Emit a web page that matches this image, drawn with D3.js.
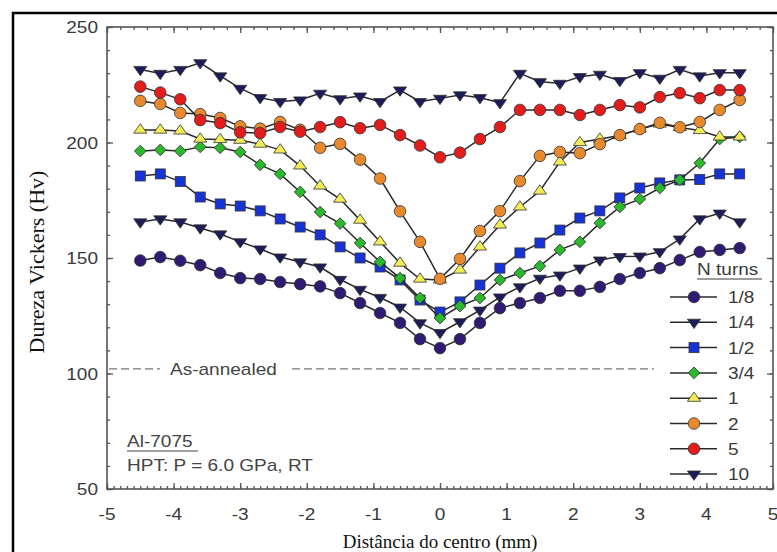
<!DOCTYPE html>
<html>
<head>
<meta charset="utf-8">
<script src="https://cdn.jsdelivr.net/npm/d3@7"></script>
<style>
  body { margin: 0; background: #fff; }
  svg { display: block; }
</style>
</head>
<body>
<svg id="chart" width="777" height="552"></svg>
<script>
// distance from centre (mm)
var xs = [-4.5, -4.2, -3.9, -3.6, -3.3, -3.0, -2.7, -2.4, -2.1, -1.8, -1.5, -1.2, -0.9, -0.6, -0.3, 0,
          0.3, 0.6, 0.9, 1.2, 1.5, 1.8, 2.1, 2.4, 2.7, 3.0, 3.3, 3.6, 3.9, 4.2, 4.5];

var turns = ["1/8", "1/4", "1/2", "3/4", "1", "2", "5", "10"];

var hv_1_8 = [148.9, 150.4, 148.8, 146.9, 143.5, 141.3, 140.9, 139.6, 138.7, 137.7, 134.8, 130.5, 126.2, 121.9, 114.9, 111.0,
              114.9, 121.9, 128.3, 130.5, 132.7, 135.8, 135.8, 137.5, 140.9, 143.5, 145.6, 149.1, 152.6, 153.5, 154.3];
var hv_1_4 = [165.6, 166.9, 165.6, 163.0, 160.4, 157.0, 153.9, 150.4, 148.3, 146.1, 140.7, 136.4, 132.9, 128.7, 121.9, 117.7,
              122.4, 127.4, 133.1, 137.5, 141.2, 142.6, 145.6, 149.1, 150.6, 150.8, 152.7, 158.2, 166.9, 169.4, 165.6];
var hv_1_2 = [185.5, 186.4, 183.1, 176.4, 173.4, 172.5, 170.4, 166.9, 163.4, 160.0, 154.8, 150.0, 146.1, 140.5, 131.8, 126.6,
              131.0, 138.3, 145.6, 152.2, 156.5, 162.1, 167.3, 170.4, 176.0, 180.3, 182.5, 183.8, 184.0, 186.4, 186.4];
var hv_3_4 = [196.3, 196.8, 196.3, 198.1, 197.7, 195.9, 190.3, 186.4, 178.6, 169.9, 164.9, 156.5, 148.3, 141.3, 132.7, 124.0,
              129.2, 132.7, 140.5, 143.5, 146.5, 153.5, 157.0, 165.1, 172.1, 175.5, 180.3, 183.8, 191.1, 201.5, 202.4];
var hv_1   = [205.4, 205.4, 205.0, 201.5, 201.3, 201.0, 199.3, 196.8, 189.9, 181.2, 175.5, 166.4, 157.0, 147.8, 140.9, 140.5,
              144.8, 154.8, 164.3, 172.1, 179.0, 191.6, 200.0, 201.5, 203.0, 205.8, 208.0, 206.5, 205.2, 202.4, 202.4];
var hv_2   = [218.0, 216.7, 212.8, 212.3, 210.6, 207.0, 206.0, 208.9, 205.5, 197.7, 199.4, 192.6, 184.4, 170.2, 157.0, 141.0,
              149.6, 161.7, 170.3, 183.3, 194.2, 195.9, 195.4, 199.3, 203.2, 205.8, 208.5, 206.6, 208.9, 214.1, 218.4];
var hv_5   = [224.2, 221.6, 218.7, 209.7, 208.4, 204.4, 204.1, 206.7, 204.7, 206.7, 208.8, 206.2, 207.6, 203.2, 198.7, 193.6,
              195.6, 201.5, 206.7, 214.1, 214.1, 214.1, 211.9, 214.1, 216.2, 215.2, 219.7, 221.4, 219.2, 222.7, 222.7];
var hv_10  = [231.6, 229.9, 231.6, 234.5, 228.8, 223.4, 219.4, 217.7, 218.4, 221.3, 218.9, 220.1, 217.7, 222.7, 217.7, 219.1,
              220.6, 219.4, 217.2, 229.9, 226.3, 225.6, 228.5, 229.5, 226.8, 230.2, 227.8, 231.6, 228.8, 230.2, 230.2];

var annealed = 102;
var xTicks = [-5, -4, -3, -2, -1, 0, 1, 2, 3, 4, 5];
var yTicks = [50, 100, 150, 200, 250];

var allSeries = [hv_1_8, hv_1_4, hv_1_2, hv_3_4, hv_1, hv_2, hv_5, hv_10];
var fills   = ["#2f1c72", "#1c1c58", "#1733d6", "#2cb82c", "#f2ec58", "#e8892e", "#e31c1c", "#1c1c58"];
var shapes  = ["circle", "tridown", "square", "diamond", "triup", "circle", "circle", "tridown"];

var svg = d3.select("#chart");

var x = d3.scaleLinear().domain([-5, 5]).range([107, 773]);
var y = d3.scaleLinear().domain([50, 250]).range([489, 27]);

var sans = "'Liberation Sans', Arial, sans-serif";
var serif = "'Liberation Serif', 'Times New Roman', serif";

// outer black frame
svg.append("rect")
   .attr("x", 13).attr("y", 13)
   .attr("width", 800).attr("height", 600)
   .attr("fill", "none").attr("stroke", "#000").attr("stroke-width", 2.5);

// plot frame + ticks (inward, mirrored)
var tickCol = "#555";
svg.append("g").attr("transform", "translate(0,489)")
   .call(d3.axisTop(x).tickValues(d3.range(-50, 51).map(function(d) { return d / 10; })).tickSize(3).tickFormat(""))
   .call(function(g) { g.select(".domain").remove(); });
svg.append("g").attr("transform", "translate(0,489)")
   .call(d3.axisTop(x).tickValues(xTicks).tickSize(6).tickFormat(""))
   .call(function(g) { g.select(".domain").remove(); });
svg.append("g").attr("transform", "translate(0,27)")
   .call(d3.axisBottom(x).tickValues(d3.range(-25, 26).map(function(d) { return d / 5; })).tickSize(3).tickFormat(""))
   .call(function(g) { g.select(".domain").remove(); });
svg.append("g").attr("transform", "translate(0,27)")
   .call(d3.axisBottom(x).tickValues(xTicks).tickSize(6).tickFormat(""))
   .call(function(g) { g.select(".domain").remove(); });
[[107, d3.axisRight], [773, d3.axisLeft]].forEach(function(p) {
  svg.append("g").attr("transform", "translate(" + p[0] + ",0)")
     .call(p[1](y).tickValues(d3.range(50, 251, 10)).tickSize(3).tickFormat(""))
     .call(function(g) { g.select(".domain").remove(); });
  svg.append("g").attr("transform", "translate(" + p[0] + ",0)")
     .call(p[1](y).tickValues(yTicks).tickSize(6).tickFormat(""))
     .call(function(g) { g.select(".domain").remove(); });
});
svg.selectAll(".tick line").attr("stroke", tickCol).attr("stroke-width", 1.3);
svg.append("rect")
   .attr("x", x(-5)).attr("y", y(250))
   .attr("width", x(5) - x(-5)).attr("height", y(50) - y(250))
   .attr("fill", "none").attr("stroke", tickCol).attr("stroke-width", 1.6);

// tick labels
function stretchText(sel, px, py, txt, anchor, size, col) {
  sel.append("text")
     .attr("transform", "translate(" + px + "," + py + ") scale(1.12,1)")
     .attr("text-anchor", anchor || "start")
     .attr("font-family", sans).attr("font-size", size || 17)
     .attr("fill", col || "#3a3a3a")
     .text(txt);
}
yTicks.forEach(function(v) { stretchText(svg, 98, y(v) + 6, v, "end"); });
xTicks.forEach(function(v) { stretchText(svg, x(v), 520, v, "middle"); });

// axis titles
svg.append("text")
   .attr("transform", "translate(44," + 262 + ") rotate(-90)")
   .attr("text-anchor", "middle")
   .attr("font-family", serif).attr("font-size", 22)
   .attr("fill", "#111")
   .text("Dureza Vickers (Hv)");
svg.append("text")
   .attr("x", 440).attr("y", 548)
   .attr("text-anchor", "middle")
   .attr("font-family", serif).attr("font-size", 19)
   .attr("fill", "#111")
   .text("Distância do centro (mm)");

// as-annealed reference
var dash = svg.append("g").attr("stroke", "#777").attr("stroke-width", 1.2).attr("stroke-dasharray", "8,4");
dash.append("line").attr("x1", x(-5) + 2).attr("x2", 160).attr("y1", y(annealed)).attr("y2", y(annealed));
dash.append("line").attr("x1", 292).attr("x2", 654).attr("y1", y(annealed)).attr("y2", y(annealed));
stretchText(svg, 170, y(annealed) + 6, "As-annealed", "start", 17, "#444");

// material notes
stretchText(svg, 127, 447, "Al-7075", "start", 17, "#444");
svg.append("line").attr("x1", 127).attr("x2", 198).attr("y1", 451).attr("y2", 451).attr("stroke", "#444").attr("stroke-width", 1.2);
stretchText(svg, 127, 471, "HPT: P = 6.0 GPa, RT", "start", 17, "#444");

// marker helper
function drawMarker(g, shape, cx, cy, fill) {
  var m;
  if (shape === "circle") {
    m = g.append("circle").attr("cx", cx).attr("cy", cy).attr("r", 5.8);
  } else if (shape === "square") {
    m = g.append("rect").attr("x", cx - 5).attr("y", cy - 5).attr("width", 10).attr("height", 10);
  } else if (shape === "diamond") {
    m = g.append("path").attr("d", d3.symbol().type(d3.symbolSquare).size(68)())
         .attr("transform", "translate(" + cx + "," + cy + ") rotate(45)");
  } else {
    var rot = shape === "tridown" ? 180 : 0;
    m = g.append("path").attr("d", d3.symbol().type(d3.symbolTriangle).size(62)())
         .attr("transform", "translate(" + cx + "," + cy + ") rotate(" + rot + ") scale(1.1,0.9)");
  }
  m.attr("fill", fill).attr("stroke", "#333").attr("stroke-width", 0.8);
}

var line = d3.line()
  .x(function(d, i) { return x(xs[i]); })
  .y(function(d) { return y(d); });

allSeries.forEach(function(vals, k) {
  var g = svg.append("g");
  g.append("path").datum(vals)
   .attr("d", line)
   .attr("fill", "none").attr("stroke", "#2a2a2a").attr("stroke-width", 1.5);
  vals.forEach(function(v, i) { drawMarker(g, shapes[k], x(xs[i]), y(v), fills[k]); });
});

// legend
var lg = svg.append("g");
stretchText(lg, 697, 275, "N turns", "start", 17, "#3a3a3a");
lg.append("line").attr("x1", 697).attr("x2", 762).attr("y1", 279).attr("y2", 279).attr("stroke", "#3a3a3a").attr("stroke-width", 1.2);
turns.forEach(function(t, k) {
  var ly = 297 + k * 25.3;
  lg.append("line").attr("x1", 670).attr("x2", 717).attr("y1", ly).attr("y2", ly)
    .attr("stroke", "#2a2a2a").attr("stroke-width", 1.5);
  drawMarker(lg, shapes[k], 694, ly, fills[k]);
  stretchText(lg, 728, ly + 6, t, "start", 17, "#3a3a3a");
});
</script>
</body>
</html>
